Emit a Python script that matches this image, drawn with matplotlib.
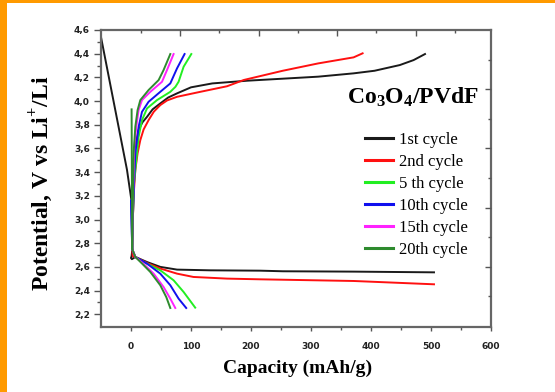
import numpy as np
import matplotlib
matplotlib.use('Agg')
import matplotlib.pyplot as plt
from matplotlib.patches import Rectangle

# charge / discharge curves, Co3O4/PVdF electrode (capacity in mAh/g, potential in V)
c1_dis_cap = [-50, -6.7, 0.5, 2, 1, 0, 1.5, 7.2, 26.7, 48.8, 76.7, 132, 215.5, 253, 371, 505]
c1_dis_v = [4.54, 3.42, 3.17, 2.74, 2.69, 2.675, 2.665, 2.684, 2.641, 2.60, 2.577, 2.571, 2.568, 2.563, 2.56, 2.554]
c1_chg_cap = [2, 3, 4, 8, 12.7, 19, 26.7, 36, 48.8, 62, 76.7, 100, 135.5, 194, 253, 312, 371, 406, 448, 471, 490]
c1_chg_v = [2.75, 3.2, 3.5, 3.65, 3.755, 3.82, 3.867, 3.93, 3.98, 4.03, 4.065, 4.116, 4.149, 4.172, 4.189, 4.206, 4.234, 4.256, 4.304, 4.346, 4.397]

c2_dis_cap = [2, 3, 7.2, 26.7, 48.8, 76.7, 104, 160, 215.5, 371, 505]
c2_dis_v = [2.75, 2.69, 2.684, 2.633, 2.586, 2.543, 2.515, 2.501, 2.495, 2.481, 2.453]
c2_chg_cap = [2, 3, 5, 7.2, 11, 15.5, 21, 29.3, 38, 48.8, 60, 76.7, 115.5, 160, 188, 253, 312, 371, 386]
c2_chg_v = [2.75, 3.0, 3.25, 3.417, 3.56, 3.67, 3.76, 3.839, 3.91, 3.966, 4.005, 4.036, 4.078, 4.125, 4.178, 4.256, 4.318, 4.369, 4.403]

c5_dis_cap = [2, 7.2, 21, 48.8, 71, 87.7, 107]
c5_dis_v = [2.75, 2.684, 2.641, 2.571, 2.487, 2.388, 2.256]
c5_chg_cap = [2, 3, 5, 8.8, 12.7, 18.3, 26.7, 43.3, 65.5, 74, 79.3, 87.7, 100.5]
c5_chg_v = [2.75, 3.0, 3.3, 3.501, 3.698, 3.839, 3.938, 4.008, 4.078, 4.12, 4.163, 4.29, 4.397]

c10_dis_cap = [0, 2, 7.2, 26, 48.8, 65.5, 79.3, 92]
c10_dis_v = [3.16, 2.75, 2.684, 2.63, 2.543, 2.445, 2.332, 2.253]
c10_chg_cap = [2, 3, 5, 7.2, 12.7, 18.3, 29.3, 48.8, 65.5, 76.7, 89.3]
c10_chg_v = [2.75, 3.0, 3.3, 3.558, 3.783, 3.909, 3.994, 4.078, 4.149, 4.276, 4.397]

c15_dis_cap = [2, 7.2, 20, 37.7, 54.3, 65.5, 73.8]
c15_dis_v = [2.75, 2.684, 2.63, 2.543, 2.43, 2.332, 2.253]
c15_chg_cap = [2, 3, 5.5, 8.8, 12.7, 18.3, 32.2, 51.7, 60, 71]
c15_chg_v = [2.75, 3.1, 3.614, 3.783, 3.924, 4.008, 4.078, 4.163, 4.262, 4.397]

c20_dis_cap = [1, 2, 7.2, 18, 32.2, 48.8, 58.8, 65.5]
c20_dis_v = [3.93, 2.75, 2.684, 2.63, 2.557, 2.445, 2.345, 2.253]
c20_chg_cap = [2, 3, 4.3, 7.2, 11, 15.5, 29.3, 46, 54.3, 65.5]
c20_chg_v = [2.75, 3.1, 3.558, 3.783, 3.924, 4.008, 4.093, 4.177, 4.262, 4.397]

labels = ['1st cycle', '2nd cycle', '5 th cycle', '10th cycle', '15th cycle', '20th cycle']
colors = ['#1a1a1a', '#ff1010', '#22ee22', '#1010ee', '#ff22ff', '#2e8b2e']

x_ticks = [0, 100, 200, 300, 400, 500, 600]
y_ticks = [2.2, 2.4, 2.6, 2.8, 3.0, 3.2, 3.4, 3.6, 3.8, 4.0, 4.2, 4.4, 4.6]
y_ticklabels = ['2,2', '2,4', '2,6', '2,8', '3,0', '3,2', '3,4', '3,6', '3,8', '4,0', '4,2', '4,4', '4,6']

plt.rcParams['mathtext.fontset'] = 'custom'
plt.rcParams['mathtext.rm'] = 'Liberation Serif'
plt.rcParams['mathtext.bf'] = 'Liberation Serif:bold'

fig = plt.figure(figsize=(5.55, 3.92), dpi=100)
fig.patch.set_facecolor('white')
# orange frame strips (left and top)
fig.patches.append(Rectangle((0, 0), 6.5 / 555, 1, transform=fig.transFigure,
                             facecolor='#ff9a00', edgecolor='none', zorder=0))
fig.patches.append(Rectangle((0, 1 - 3 / 392), 1, 3 / 392, transform=fig.transFigure,
                             facecolor='#ff9a00', edgecolor='none', zorder=0))

ax = fig.add_axes([101 / 555, 65.3 / 392, 390 / 555, 296.7 / 392])

curves = [
    (c1_dis_cap, c1_dis_v, c1_chg_cap, c1_chg_v),
    (c2_dis_cap, c2_dis_v, c2_chg_cap, c2_chg_v),
    (c5_dis_cap, c5_dis_v, c5_chg_cap, c5_chg_v),
    (c10_dis_cap, c10_dis_v, c10_chg_cap, c10_chg_v),
    (c15_dis_cap, c15_dis_v, c15_chg_cap, c15_chg_v),
    (c20_dis_cap, c20_dis_v, c20_chg_cap, c20_chg_v),
]
for (dc, dv, cc, cv), lab, col in zip(curves, labels, colors):
    ax.plot(dc, dv, color=col, lw=1.4, label=lab, solid_joinstyle='round')
    ax.plot(cc, cv, color=col, lw=1.4, solid_joinstyle='round')

ax.set_xlim(-50, 600)
ax.set_ylim(2.095, 4.6)

ax.set_xticks(x_ticks)
ax.set_xticklabels([str(t) for t in x_ticks])
ax.set_xticks(np.arange(50, 600, 100), minor=True)
ax.set_yticks(y_ticks)
ax.set_yticklabels(y_ticklabels)
ax.set_yticks(np.arange(2.3, 4.6, 0.2), minor=True)

tick_font = dict(family='DejaVu Sans', weight='bold', size=6.5)
for t in ax.get_xticklabels() + ax.get_yticklabels():
    t.set_fontproperties(matplotlib.font_manager.FontProperties(**tick_font))
    t.set_color('#222222')

ax.tick_params(axis='x', which='major', direction='out', length=3, width=1, colors='#555555',
               pad=8, labelcolor='#222222')
ax.tick_params(axis='x', which='minor', direction='out', length=2, width=1, colors='#555555')
ax.tick_params(axis='y', which='major', direction='out', length=5, width=1, colors='#555555',
               pad=3, labelcolor='#222222')
ax.tick_params(axis='y', which='minor', direction='out', length=3, width=1, colors='#555555')

for sp in ax.spines.values():
    sp.set_color('#666666')
    sp.set_linewidth(1.6)

# top and right axes carry their own tick marks without labels
top = ax.twiny()
top.set_xlim(ax.get_xlim())
top.set_xticks([82, 213, 344, 475])
top.set_xticks([16, 147, 278, 409, 540], minor=True)
top.tick_params(axis='x', which='major', direction='in', length=4, width=1, colors='#555555', labeltop=False)
top.tick_params(axis='x', which='minor', direction='in', length=2, width=1, colors='#555555')
right = ax.twinx()
right.set_ylim(ax.get_ylim())
right.set_yticks([4.1, 3.6, 3.1, 2.6])
right.set_yticks([4.35, 3.85, 3.35, 2.85, 2.35], minor=True)
right.tick_params(axis='y', which='major', direction='in', length=4, width=1, colors='#555555', labelright=False)
right.tick_params(axis='y', which='minor', direction='in', length=2, width=1, colors='#555555')
for a in (top, right):
    for sp in a.spines.values():
        sp.set_visible(False)

ax.set_xlabel('Capacity (mAh/g)', family='Liberation Serif', weight='bold', size=14)
ax.xaxis.set_label_coords(0.503, -0.112)
ax.set_ylabel(r'Potential, V vs Li$^{\mathbf{+}}$/Li', family='Liberation Serif', weight='bold', size=17)
ax.yaxis.set_label_coords(-0.118, 0.484)

ax.text(0.80, 0.775, r'$\mathbf{Co_3O_4/PVdF}$', transform=ax.transAxes, ha='center', va='center',
        size=17)

leg = ax.legend(loc='upper left', bbox_to_anchor=(0.676, 0.656), frameon=False,
                prop=dict(family='Liberation Serif', size=12), handlelength=1.7,
                handletextpad=0.36, labelspacing=0.355, borderpad=0, borderaxespad=0)
for h in leg.get_lines():
    h.set_linewidth(2.2)

fig.savefig('out.png', dpi=100)
